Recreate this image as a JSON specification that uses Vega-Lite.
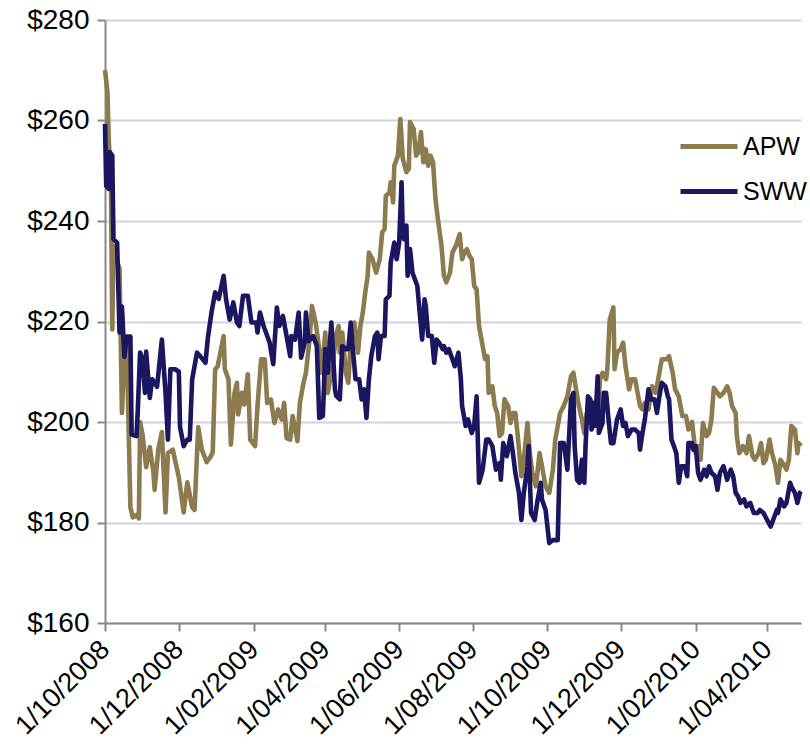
{
"$schema": "https://vega.github.io/schema/vega-lite/v6.json",
"width": 696, "height": 603,
"autosize": {"type": "none"},
"padding": {"left": 105, "top": 20, "right": 9, "bottom": 123},
"background": "white",
"config": {"view": {"stroke": null}, "font": "Liberation Sans"},
"data": {"values": [
{"date":"2008-10-01","stock":"APW","price":270.0},{"date":"2008-10-03","stock":"APW","price":265.7},{"date":"2008-10-04","stock":"APW","price":257.0},{"date":"2008-10-06","stock":"APW","price":245.7},{"date":"2008-10-07","stock":"APW","price":218.4},{"date":"2008-10-08","stock":"APW","price":235.0},{"date":"2008-10-11","stock":"APW","price":232.0},{"date":"2008-10-13","stock":"APW","price":230.5},{"date":"2008-10-15","stock":"APW","price":201.8},{"date":"2008-10-17","stock":"APW","price":214.0},{"date":"2008-10-19","stock":"APW","price":215.0},{"date":"2008-10-22","stock":"APW","price":183.0},{"date":"2008-10-24","stock":"APW","price":181.0},{"date":"2008-10-27","stock":"APW","price":181.5},{"date":"2008-10-29","stock":"APW","price":180.8},{"date":"2008-10-30","stock":"APW","price":200.0},
{"date":"2008-11-01","stock":"APW","price":197.5},{"date":"2008-11-04","stock":"APW","price":191.0},{"date":"2008-11-07","stock":"APW","price":195.0},{"date":"2008-11-10","stock":"APW","price":190.0},{"date":"2008-11-11","stock":"APW","price":186.5},{"date":"2008-11-14","stock":"APW","price":194.5},{"date":"2008-11-17","stock":"APW","price":198.0},{"date":"2008-11-20","stock":"APW","price":182.0},{"date":"2008-11-22","stock":"APW","price":193.8},{"date":"2008-11-26","stock":"APW","price":194.5},
{"date":"2008-12-01","stock":"APW","price":189.0},{"date":"2008-12-05","stock":"APW","price":182.0},{"date":"2008-12-08","stock":"APW","price":188.0},{"date":"2008-12-12","stock":"APW","price":183.0},{"date":"2008-12-14","stock":"APW","price":182.5},{"date":"2008-12-17","stock":"APW","price":199.0},{"date":"2008-12-20","stock":"APW","price":194.5},{"date":"2008-12-24","stock":"APW","price":192.0},{"date":"2008-12-27","stock":"APW","price":193.0},{"date":"2008-12-29","stock":"APW","price":194.0},{"date":"2008-12-31","stock":"APW","price":210.5},
{"date":"2009-01-02","stock":"APW","price":211.0},{"date":"2009-01-07","stock":"APW","price":217.1},{"date":"2009-01-08","stock":"APW","price":210.5},{"date":"2009-01-11","stock":"APW","price":208.5},{"date":"2009-01-13","stock":"APW","price":195.5},{"date":"2009-01-16","stock":"APW","price":205.8},{"date":"2009-01-18","stock":"APW","price":207.8},{"date":"2009-01-19","stock":"APW","price":201.5},{"date":"2009-01-22","stock":"APW","price":205.8},{"date":"2009-01-24","stock":"APW","price":203.5},{"date":"2009-01-27","stock":"APW","price":209.5},{"date":"2009-01-29","stock":"APW","price":196.5},
{"date":"2009-02-02","stock":"APW","price":195.2},{"date":"2009-02-04","stock":"APW","price":203.2},{"date":"2009-02-07","stock":"APW","price":212.5},{"date":"2009-02-10","stock":"APW","price":212.5},{"date":"2009-02-12","stock":"APW","price":203.8},{"date":"2009-02-15","stock":"APW","price":204.5},{"date":"2009-02-18","stock":"APW","price":199.8},{"date":"2009-02-21","stock":"APW","price":202.5},{"date":"2009-02-24","stock":"APW","price":200.5},{"date":"2009-02-26","stock":"APW","price":203.8},{"date":"2009-02-28","stock":"APW","price":196.8},
{"date":"2009-03-03","stock":"APW","price":196.5},{"date":"2009-03-05","stock":"APW","price":201.2},{"date":"2009-03-09","stock":"APW","price":196.2},{"date":"2009-03-11","stock":"APW","price":203.8},{"date":"2009-03-14","stock":"APW","price":207.8},{"date":"2009-03-16","stock":"APW","price":209.8},{"date":"2009-03-19","stock":"APW","price":216.4},{"date":"2009-03-21","stock":"APW","price":223.1},{"date":"2009-03-24","stock":"APW","price":219.8},{"date":"2009-03-26","stock":"APW","price":216.4},{"date":"2009-03-29","stock":"APW","price":209.8},
{"date":"2009-04-01","stock":"APW","price":217.8},{"date":"2009-04-03","stock":"APW","price":205.8},{"date":"2009-04-07","stock":"APW","price":211.1},{"date":"2009-04-10","stock":"APW","price":217.5},{"date":"2009-04-12","stock":"APW","price":219.1},{"date":"2009-04-13","stock":"APW","price":213.8},{"date":"2009-04-15","stock":"APW","price":217.8},{"date":"2009-04-18","stock":"APW","price":209.8},{"date":"2009-04-20","stock":"APW","price":207.8},{"date":"2009-04-22","stock":"APW","price":215.8},{"date":"2009-04-25","stock":"APW","price":219.8},{"date":"2009-04-28","stock":"APW","price":213.8},{"date":"2009-04-30","stock":"APW","price":219.1},
{"date":"2009-05-02","stock":"APW","price":221.8},{"date":"2009-05-04","stock":"APW","price":225.8},{"date":"2009-05-06","stock":"APW","price":229.1},{"date":"2009-05-07","stock":"APW","price":233.7},{"date":"2009-05-10","stock":"APW","price":232.4},{"date":"2009-05-13","stock":"APW","price":229.7},{"date":"2009-05-16","stock":"APW","price":232.4},{"date":"2009-05-18","stock":"APW","price":237.7},{"date":"2009-05-20","stock":"APW","price":238.4},{"date":"2009-05-21","stock":"APW","price":245.0},{"date":"2009-05-24","stock":"APW","price":245.7},{"date":"2009-05-25","stock":"APW","price":247.7},{"date":"2009-05-27","stock":"APW","price":243.7},{"date":"2009-05-28","stock":"APW","price":251.0},{"date":"2009-05-31","stock":"APW","price":253.0},
{"date":"2009-06-02","stock":"APW","price":260.3},{"date":"2009-06-04","stock":"APW","price":252.4},{"date":"2009-06-07","stock":"APW","price":249.7},{"date":"2009-06-09","stock":"APW","price":250.4},{"date":"2009-06-10","stock":"APW","price":259.7},{"date":"2009-06-13","stock":"APW","price":258.3},{"date":"2009-06-15","stock":"APW","price":253.0},{"date":"2009-06-17","stock":"APW","price":253.7},{"date":"2009-06-19","stock":"APW","price":257.7},{"date":"2009-06-21","stock":"APW","price":251.7},{"date":"2009-06-23","stock":"APW","price":254.3},{"date":"2009-06-25","stock":"APW","price":251.0},{"date":"2009-06-27","stock":"APW","price":253.0},{"date":"2009-06-29","stock":"APW","price":251.7},
{"date":"2009-07-01","stock":"APW","price":244.4},{"date":"2009-07-03","stock":"APW","price":240.4},{"date":"2009-07-06","stock":"APW","price":235.1},{"date":"2009-07-08","stock":"APW","price":229.1},{"date":"2009-07-10","stock":"APW","price":227.8},{"date":"2009-07-13","stock":"APW","price":229.7},{"date":"2009-07-15","stock":"APW","price":233.7},{"date":"2009-07-18","stock":"APW","price":235.1},{"date":"2009-07-21","stock":"APW","price":237.4},{"date":"2009-07-23","stock":"APW","price":232.4},{"date":"2009-07-25","stock":"APW","price":233.7},{"date":"2009-07-27","stock":"APW","price":234.4},{"date":"2009-07-29","stock":"APW","price":233.1},{"date":"2009-07-31","stock":"APW","price":232.4},
{"date":"2009-08-02","stock":"APW","price":227.1},{"date":"2009-08-04","stock":"APW","price":226.4},{"date":"2009-08-06","stock":"APW","price":219.1},{"date":"2009-08-09","stock":"APW","price":215.1},{"date":"2009-08-11","stock":"APW","price":212.5},{"date":"2009-08-13","stock":"APW","price":213.1},{"date":"2009-08-14","stock":"APW","price":205.8},{"date":"2009-08-17","stock":"APW","price":207.1},{"date":"2009-08-19","stock":"APW","price":203.2},{"date":"2009-08-21","stock":"APW","price":201.8},{"date":"2009-08-23","stock":"APW","price":197.2},{"date":"2009-08-25","stock":"APW","price":197.8},{"date":"2009-08-27","stock":"APW","price":204.5},{"date":"2009-08-30","stock":"APW","price":203.2},
{"date":"2009-09-01","stock":"APW","price":199.8},{"date":"2009-09-03","stock":"APW","price":201.8},{"date":"2009-09-05","stock":"APW","price":201.8},{"date":"2009-09-07","stock":"APW","price":197.2},{"date":"2009-09-10","stock":"APW","price":189.2},{"date":"2009-09-12","stock":"APW","price":192.5},{"date":"2009-09-15","stock":"APW","price":199.8},{"date":"2009-09-17","stock":"APW","price":193.8},{"date":"2009-09-19","stock":"APW","price":189.9},{"date":"2009-09-22","stock":"APW","price":187.2},{"date":"2009-09-25","stock":"APW","price":193.8},{"date":"2009-09-27","stock":"APW","price":191.2},{"date":"2009-09-30","stock":"APW","price":187.2},
{"date":"2009-10-03","stock":"APW","price":185.9},{"date":"2009-10-06","stock":"APW","price":190.5},{"date":"2009-10-08","stock":"APW","price":196.5},{"date":"2009-10-12","stock":"APW","price":201.8},{"date":"2009-10-15","stock":"APW","price":203.2},{"date":"2009-10-18","stock":"APW","price":205.1},{"date":"2009-10-21","stock":"APW","price":209.1},{"date":"2009-10-23","stock":"APW","price":209.8},{"date":"2009-10-27","stock":"APW","price":203.8},{"date":"2009-10-30","stock":"APW","price":200.5},
{"date":"2009-11-01","stock":"APW","price":197.8},{"date":"2009-11-03","stock":"APW","price":201.8},{"date":"2009-11-06","stock":"APW","price":203.2},{"date":"2009-11-09","stock":"APW","price":203.8},{"date":"2009-11-12","stock":"APW","price":201.8},{"date":"2009-11-14","stock":"APW","price":208.5},{"date":"2009-11-16","stock":"APW","price":209.8},{"date":"2009-11-19","stock":"APW","price":208.5},{"date":"2009-11-20","stock":"APW","price":210.5},{"date":"2009-11-22","stock":"APW","price":220.4},{"date":"2009-11-25","stock":"APW","price":222.8},{"date":"2009-11-26","stock":"APW","price":210.5},{"date":"2009-11-28","stock":"APW","price":213.8},
{"date":"2009-12-01","stock":"APW","price":214.5},{"date":"2009-12-03","stock":"APW","price":215.8},{"date":"2009-12-05","stock":"APW","price":211.1},{"date":"2009-12-08","stock":"APW","price":206.5},{"date":"2009-12-10","stock":"APW","price":208.5},{"date":"2009-12-13","stock":"APW","price":208.5},{"date":"2009-12-15","stock":"APW","price":205.8},{"date":"2009-12-17","stock":"APW","price":203.2},{"date":"2009-12-19","stock":"APW","price":202.5},{"date":"2009-12-21","stock":"APW","price":203.8},{"date":"2009-12-24","stock":"APW","price":202.5},{"date":"2009-12-27","stock":"APW","price":207.1},{"date":"2009-12-30","stock":"APW","price":205.8},
{"date":"2010-01-02","stock":"APW","price":209.8},{"date":"2010-01-04","stock":"APW","price":212.5},{"date":"2010-01-08","stock":"APW","price":212.5},{"date":"2010-01-10","stock":"APW","price":213.1},{"date":"2010-01-13","stock":"APW","price":209.8},{"date":"2010-01-15","stock":"APW","price":206.5},{"date":"2010-01-18","stock":"APW","price":205.1},{"date":"2010-01-21","stock":"APW","price":201.2},{"date":"2010-01-24","stock":"APW","price":201.2},{"date":"2010-01-26","stock":"APW","price":198.5},{"date":"2010-01-29","stock":"APW","price":200.0},{"date":"2010-01-30","stock":"APW","price":197.8},
{"date":"2010-02-01","stock":"APW","price":193.8},{"date":"2010-02-03","stock":"APW","price":195.2},{"date":"2010-02-05","stock":"APW","price":192.5},{"date":"2010-02-07","stock":"APW","price":199.8},{"date":"2010-02-10","stock":"APW","price":197.2},{"date":"2010-02-12","stock":"APW","price":197.8},{"date":"2010-02-14","stock":"APW","price":200.5},{"date":"2010-02-16","stock":"APW","price":206.8},{"date":"2010-02-19","stock":"APW","price":205.8},{"date":"2010-02-21","stock":"APW","price":205.1},{"date":"2010-02-24","stock":"APW","price":205.8},{"date":"2010-02-27","stock":"APW","price":207.1},
{"date":"2010-03-01","stock":"APW","price":205.8},{"date":"2010-03-03","stock":"APW","price":203.2},{"date":"2010-03-06","stock":"APW","price":201.8},{"date":"2010-03-07","stock":"APW","price":197.2},{"date":"2010-03-09","stock":"APW","price":193.8},{"date":"2010-03-12","stock":"APW","price":195.2},{"date":"2010-03-15","stock":"APW","price":193.8},{"date":"2010-03-17","stock":"APW","price":197.2},{"date":"2010-03-20","stock":"APW","price":193.2},{"date":"2010-03-22","stock":"APW","price":192.5},{"date":"2010-03-25","stock":"APW","price":193.8},{"date":"2010-03-27","stock":"APW","price":195.8},{"date":"2010-03-29","stock":"APW","price":191.8},{"date":"2010-03-31","stock":"APW","price":192.5},
{"date":"2010-04-03","stock":"APW","price":196.5},{"date":"2010-04-05","stock":"APW","price":193.8},{"date":"2010-04-08","stock":"APW","price":191.2},{"date":"2010-04-10","stock":"APW","price":187.9},{"date":"2010-04-12","stock":"APW","price":192.5},{"date":"2010-04-14","stock":"APW","price":191.8},{"date":"2010-04-17","stock":"APW","price":190.5},{"date":"2010-04-19","stock":"APW","price":192.5},{"date":"2010-04-21","stock":"APW","price":199.2},{"date":"2010-04-24","stock":"APW","price":198.5},{"date":"2010-04-26","stock":"APW","price":193.8},{"date":"2010-04-27","stock":"APW","price":195.8},{"date":"2010-04-29","stock":"APW","price":195.2},
{"date":"2008-10-01","stock":"SWW","price":259.3},{"date":"2008-10-02","stock":"SWW","price":247.0},{"date":"2008-10-04","stock":"SWW","price":246.4},{"date":"2008-10-05","stock":"SWW","price":253.7},{"date":"2008-10-07","stock":"SWW","price":253.0},{"date":"2008-10-08","stock":"SWW","price":236.4},{"date":"2008-10-11","stock":"SWW","price":235.7},{"date":"2008-10-13","stock":"SWW","price":217.8},{"date":"2008-10-15","stock":"SWW","price":223.0},{"date":"2008-10-17","stock":"SWW","price":213.0},{"date":"2008-10-19","stock":"SWW","price":217.0},{"date":"2008-10-22","stock":"SWW","price":217.0},{"date":"2008-10-23","stock":"SWW","price":197.5},{"date":"2008-10-27","stock":"SWW","price":197.2},{"date":"2008-10-28","stock":"SWW","price":201.8},{"date":"2008-10-30","stock":"SWW","price":213.8},
{"date":"2008-11-01","stock":"SWW","price":212.5},{"date":"2008-11-03","stock":"SWW","price":205.8},{"date":"2008-11-04","stock":"SWW","price":214.0},{"date":"2008-11-07","stock":"SWW","price":204.8},{"date":"2008-11-09","stock":"SWW","price":208.5},{"date":"2008-11-13","stock":"SWW","price":207.0},{"date":"2008-11-17","stock":"SWW","price":216.4},{"date":"2008-11-20","stock":"SWW","price":205.8},{"date":"2008-11-22","stock":"SWW","price":196.5},{"date":"2008-11-24","stock":"SWW","price":210.5},{"date":"2008-11-28","stock":"SWW","price":210.5},
{"date":"2008-12-01","stock":"SWW","price":210.0},{"date":"2008-12-02","stock":"SWW","price":199.0},{"date":"2008-12-05","stock":"SWW","price":195.2},{"date":"2008-12-08","stock":"SWW","price":196.5},{"date":"2008-12-10","stock":"SWW","price":196.5},{"date":"2008-12-12","stock":"SWW","price":208.5},{"date":"2008-12-16","stock":"SWW","price":213.8},{"date":"2008-12-19","stock":"SWW","price":213.0},{"date":"2008-12-23","stock":"SWW","price":211.8},{"date":"2008-12-25","stock":"SWW","price":216.8},{"date":"2008-12-28","stock":"SWW","price":221.8},{"date":"2008-12-31","stock":"SWW","price":225.8},
{"date":"2009-01-03","stock":"SWW","price":224.5},{"date":"2009-01-07","stock":"SWW","price":229.1},{"date":"2009-01-09","stock":"SWW","price":224.4},{"date":"2009-01-12","stock":"SWW","price":220.4},{"date":"2009-01-15","stock":"SWW","price":223.8},{"date":"2009-01-18","stock":"SWW","price":219.8},{"date":"2009-01-20","stock":"SWW","price":219.1},{"date":"2009-01-23","stock":"SWW","price":225.1},{"date":"2009-01-27","stock":"SWW","price":225.1},{"date":"2009-01-30","stock":"SWW","price":219.8},
{"date":"2009-02-03","stock":"SWW","price":219.8},{"date":"2009-02-04","stock":"SWW","price":217.8},{"date":"2009-02-06","stock":"SWW","price":221.8},{"date":"2009-02-09","stock":"SWW","price":219.1},{"date":"2009-02-11","stock":"SWW","price":217.8},{"date":"2009-02-14","stock":"SWW","price":215.8},{"date":"2009-02-17","stock":"SWW","price":211.5},{"date":"2009-02-20","stock":"SWW","price":222.8},{"date":"2009-02-22","stock":"SWW","price":219.1},{"date":"2009-02-25","stock":"SWW","price":221.1},{"date":"2009-02-28","stock":"SWW","price":217.1},
{"date":"2009-03-03","stock":"SWW","price":213.1},{"date":"2009-03-04","stock":"SWW","price":217.1},{"date":"2009-03-07","stock":"SWW","price":216.4},{"date":"2009-03-10","stock":"SWW","price":221.8},{"date":"2009-03-12","stock":"SWW","price":212.8},{"date":"2009-03-15","stock":"SWW","price":215.8},{"date":"2009-03-16","stock":"SWW","price":221.8},{"date":"2009-03-18","stock":"SWW","price":216.1},{"date":"2009-03-22","stock":"SWW","price":217.1},{"date":"2009-03-25","stock":"SWW","price":215.1},{"date":"2009-03-27","stock":"SWW","price":200.8},{"date":"2009-03-30","stock":"SWW","price":201.2},
{"date":"2009-04-01","stock":"SWW","price":214.5},{"date":"2009-04-03","stock":"SWW","price":209.8},{"date":"2009-04-06","stock":"SWW","price":219.8},{"date":"2009-04-09","stock":"SWW","price":206.5},{"date":"2009-04-10","stock":"SWW","price":205.2},{"date":"2009-04-13","stock":"SWW","price":204.5},{"date":"2009-04-15","stock":"SWW","price":215.1},{"date":"2009-04-18","stock":"SWW","price":214.5},{"date":"2009-04-20","stock":"SWW","price":214.5},{"date":"2009-04-22","stock":"SWW","price":219.8},{"date":"2009-04-24","stock":"SWW","price":213.8},{"date":"2009-04-26","stock":"SWW","price":208.5},{"date":"2009-04-29","stock":"SWW","price":208.5},
{"date":"2009-05-01","stock":"SWW","price":204.5},{"date":"2009-05-03","stock":"SWW","price":206.5},{"date":"2009-05-05","stock":"SWW","price":200.8},{"date":"2009-05-07","stock":"SWW","price":208.5},{"date":"2009-05-09","stock":"SWW","price":213.1},{"date":"2009-05-12","stock":"SWW","price":217.1},{"date":"2009-05-14","stock":"SWW","price":217.8},{"date":"2009-05-15","stock":"SWW","price":212.5},{"date":"2009-05-17","stock":"SWW","price":217.1},{"date":"2009-05-20","stock":"SWW","price":217.1},{"date":"2009-05-21","stock":"SWW","price":224.4},{"date":"2009-05-24","stock":"SWW","price":225.1},{"date":"2009-05-25","stock":"SWW","price":231.7},{"date":"2009-05-28","stock":"SWW","price":235.7},{"date":"2009-05-30","stock":"SWW","price":232.4},
{"date":"2009-06-01","stock":"SWW","price":235.7},{"date":"2009-06-03","stock":"SWW","price":247.7},{"date":"2009-06-04","stock":"SWW","price":237.7},{"date":"2009-06-05","stock":"SWW","price":236.4},{"date":"2009-06-07","stock":"SWW","price":239.1},{"date":"2009-06-08","stock":"SWW","price":229.1},{"date":"2009-06-10","stock":"SWW","price":234.4},{"date":"2009-06-12","stock":"SWW","price":229.7},{"date":"2009-06-14","stock":"SWW","price":228.4},{"date":"2009-06-16","stock":"SWW","price":227.1},{"date":"2009-06-18","stock":"SWW","price":221.8},{"date":"2009-06-20","stock":"SWW","price":216.4},{"date":"2009-06-22","stock":"SWW","price":224.4},{"date":"2009-06-23","stock":"SWW","price":223.1},{"date":"2009-06-25","stock":"SWW","price":217.1},{"date":"2009-06-28","stock":"SWW","price":217.1},{"date":"2009-06-30","stock":"SWW","price":211.8},
{"date":"2009-07-02","stock":"SWW","price":216.4},{"date":"2009-07-04","stock":"SWW","price":215.8},{"date":"2009-07-07","stock":"SWW","price":214.5},{"date":"2009-07-08","stock":"SWW","price":215.1},{"date":"2009-07-10","stock":"SWW","price":213.8},{"date":"2009-07-12","stock":"SWW","price":214.5},{"date":"2009-07-15","stock":"SWW","price":212.5},{"date":"2009-07-17","stock":"SWW","price":211.1},{"date":"2009-07-20","stock":"SWW","price":213.8},{"date":"2009-07-22","stock":"SWW","price":208.5},{"date":"2009-07-23","stock":"SWW","price":203.2},{"date":"2009-07-26","stock":"SWW","price":199.2},{"date":"2009-07-28","stock":"SWW","price":200.5},{"date":"2009-07-31","stock":"SWW","price":197.8},
{"date":"2009-08-02","stock":"SWW","price":199.2},{"date":"2009-08-04","stock":"SWW","price":205.1},{"date":"2009-08-06","stock":"SWW","price":187.9},{"date":"2009-08-09","stock":"SWW","price":190.5},{"date":"2009-08-12","stock":"SWW","price":196.5},{"date":"2009-08-14","stock":"SWW","price":196.5},{"date":"2009-08-17","stock":"SWW","price":195.2},{"date":"2009-08-20","stock":"SWW","price":190.5},{"date":"2009-08-23","stock":"SWW","price":191.8},{"date":"2009-08-24","stock":"SWW","price":188.5},{"date":"2009-08-26","stock":"SWW","price":195.8},{"date":"2009-08-29","stock":"SWW","price":193.2},
{"date":"2009-09-01","stock":"SWW","price":197.2},{"date":"2009-09-03","stock":"SWW","price":193.8},{"date":"2009-09-05","stock":"SWW","price":189.9},{"date":"2009-09-08","stock":"SWW","price":185.9},{"date":"2009-09-10","stock":"SWW","price":180.5},{"date":"2009-09-12","stock":"SWW","price":185.9},{"date":"2009-09-15","stock":"SWW","price":191.2},{"date":"2009-09-16","stock":"SWW","price":195.2},{"date":"2009-09-18","stock":"SWW","price":181.9},{"date":"2009-09-21","stock":"SWW","price":180.5},{"date":"2009-09-23","stock":"SWW","price":183.9},{"date":"2009-09-26","stock":"SWW","price":187.9},{"date":"2009-09-27","stock":"SWW","price":184.6},{"date":"2009-09-30","stock":"SWW","price":182.5},
{"date":"2009-10-03","stock":"SWW","price":175.9},{"date":"2009-10-06","stock":"SWW","price":176.5},{"date":"2009-10-10","stock":"SWW","price":176.5},{"date":"2009-10-12","stock":"SWW","price":195.8},{"date":"2009-10-15","stock":"SWW","price":195.8},{"date":"2009-10-18","stock":"SWW","price":190.5},{"date":"2009-10-21","stock":"SWW","price":204.5},{"date":"2009-10-23","stock":"SWW","price":205.8},{"date":"2009-10-24","stock":"SWW","price":195.2},{"date":"2009-10-26","stock":"SWW","price":188.5},{"date":"2009-10-28","stock":"SWW","price":187.9},{"date":"2009-10-30","stock":"SWW","price":192.5},
{"date":"2009-11-01","stock":"SWW","price":187.9},{"date":"2009-11-02","stock":"SWW","price":195.2},{"date":"2009-11-04","stock":"SWW","price":205.1},{"date":"2009-11-06","stock":"SWW","price":204.5},{"date":"2009-11-07","stock":"SWW","price":198.5},{"date":"2009-11-09","stock":"SWW","price":203.8},{"date":"2009-11-10","stock":"SWW","price":199.2},{"date":"2009-11-12","stock":"SWW","price":209.1},{"date":"2009-11-13","stock":"SWW","price":197.8},{"date":"2009-11-16","stock":"SWW","price":199.8},{"date":"2009-11-17","stock":"SWW","price":205.8},{"date":"2009-11-19","stock":"SWW","price":205.8},{"date":"2009-11-21","stock":"SWW","price":200.5},{"date":"2009-11-23","stock":"SWW","price":195.8},{"date":"2009-11-25","stock":"SWW","price":195.8},{"date":"2009-11-28","stock":"SWW","price":200.5},
{"date":"2009-12-01","stock":"SWW","price":202.5},{"date":"2009-12-03","stock":"SWW","price":199.2},{"date":"2009-12-05","stock":"SWW","price":199.8},{"date":"2009-12-07","stock":"SWW","price":197.2},{"date":"2009-12-10","stock":"SWW","price":198.5},{"date":"2009-12-13","stock":"SWW","price":198.5},{"date":"2009-12-16","stock":"SWW","price":197.8},{"date":"2009-12-17","stock":"SWW","price":194.5},{"date":"2009-12-19","stock":"SWW","price":197.8},{"date":"2009-12-21","stock":"SWW","price":200.5},{"date":"2009-12-24","stock":"SWW","price":206.5},{"date":"2009-12-26","stock":"SWW","price":204.5},{"date":"2009-12-29","stock":"SWW","price":204.5},{"date":"2009-12-31","stock":"SWW","price":201.8},
{"date":"2010-01-02","stock":"SWW","price":205.1},{"date":"2010-01-04","stock":"SWW","price":207.8},{"date":"2010-01-07","stock":"SWW","price":207.1},{"date":"2010-01-09","stock":"SWW","price":205.1},{"date":"2010-01-10","stock":"SWW","price":204.5},{"date":"2010-01-12","stock":"SWW","price":196.5},{"date":"2010-01-14","stock":"SWW","price":195.2},{"date":"2010-01-16","stock":"SWW","price":193.8},{"date":"2010-01-18","stock":"SWW","price":187.9},{"date":"2010-01-20","stock":"SWW","price":191.2},{"date":"2010-01-23","stock":"SWW","price":191.2},{"date":"2010-01-25","stock":"SWW","price":189.2},{"date":"2010-01-26","stock":"SWW","price":195.8},{"date":"2010-01-29","stock":"SWW","price":195.8},{"date":"2010-01-30","stock":"SWW","price":194.5},
{"date":"2010-02-01","stock":"SWW","price":195.2},{"date":"2010-02-03","stock":"SWW","price":189.9},{"date":"2010-02-05","stock":"SWW","price":188.5},{"date":"2010-02-08","stock":"SWW","price":190.5},{"date":"2010-02-10","stock":"SWW","price":189.2},{"date":"2010-02-12","stock":"SWW","price":191.2},{"date":"2010-02-14","stock":"SWW","price":189.9},{"date":"2010-02-17","stock":"SWW","price":189.2},{"date":"2010-02-19","stock":"SWW","price":186.5},{"date":"2010-02-21","stock":"SWW","price":189.9},{"date":"2010-02-24","stock":"SWW","price":191.2},{"date":"2010-02-27","stock":"SWW","price":188.5},
{"date":"2010-03-02","stock":"SWW","price":190.5},{"date":"2010-03-04","stock":"SWW","price":189.2},{"date":"2010-03-06","stock":"SWW","price":185.9},{"date":"2010-03-08","stock":"SWW","price":185.2},{"date":"2010-03-10","stock":"SWW","price":183.9},{"date":"2010-03-13","stock":"SWW","price":184.6},{"date":"2010-03-15","stock":"SWW","price":183.2},{"date":"2010-03-18","stock":"SWW","price":183.9},{"date":"2010-03-21","stock":"SWW","price":181.9},{"date":"2010-03-24","stock":"SWW","price":181.9},{"date":"2010-03-26","stock":"SWW","price":182.5},{"date":"2010-03-29","stock":"SWW","price":181.9},
{"date":"2010-04-01","stock":"SWW","price":180.5},{"date":"2010-04-04","stock":"SWW","price":179.2},{"date":"2010-04-06","stock":"SWW","price":180.5},{"date":"2010-04-09","stock":"SWW","price":182.5},{"date":"2010-04-10","stock":"SWW","price":181.9},{"date":"2010-04-12","stock":"SWW","price":184.6},{"date":"2010-04-15","stock":"SWW","price":183.2},{"date":"2010-04-17","stock":"SWW","price":183.9},{"date":"2010-04-20","stock":"SWW","price":187.9},{"date":"2010-04-21","stock":"SWW","price":187.2},{"date":"2010-04-24","stock":"SWW","price":185.9},{"date":"2010-04-26","stock":"SWW","price":183.9},{"date":"2010-04-28","stock":"SWW","price":185.9},{"date":"2010-04-29","stock":"SWW","price":186.2}
]},
"mark": {"type": "line", "strokeWidth": 4.6, "strokeJoin": "round"},
"encoding": {
"x": {"field": "date", "type": "temporal",
 "scale": {"type": "utc", "domain": [{"year": 2008, "month": 10, "date": 1, "utc": true}, {"year": 2010, "month": 4, "date": 29, "utc": true}]},
 "axis": {"title": null, "grid": false, "format": "%-d/%m/%Y", "labelAngle": -45, "labelBaseline": "middle", "labelFontSize": 27, "labelColor": "black", "labelPadding": 14, "labelOverlap": false, "labelFlush": false, "labelBound": false,
  "domainColor": "#888888", "domainWidth": 2, "tickColor": "#888888", "tickWidth": 2, "tickSize": 8,
  "values": [{"year": 2008, "month": 10, "date": 1, "utc": true}, {"year": 2008, "month": 12, "date": 1, "utc": true}, {"year": 2009, "month": 2, "date": 1, "utc": true}, {"year": 2009, "month": 4, "date": 1, "utc": true}, {"year": 2009, "month": 6, "date": 1, "utc": true}, {"year": 2009, "month": 8, "date": 1, "utc": true}, {"year": 2009, "month": 10, "date": 1, "utc": true}, {"year": 2009, "month": 12, "date": 1, "utc": true}, {"year": 2010, "month": 2, "date": 1, "utc": true}, {"year": 2010, "month": 4, "date": 1, "utc": true}]}},
"y": {"field": "price", "type": "quantitative",
 "scale": {"domain": [160, 280], "nice": false, "zero": false},
 "axis": {"title": null, "values": [160, 180, 200, 220, 240, 260, 280], "format": "$.0f", "grid": true, "gridColor": "#D2D0E3", "gridWidth": 2,
  "labelFontSize": 28, "labelColor": "black", "labelPadding": 8, "domainColor": "#888888", "domainWidth": 2, "tickColor": "#888888", "tickWidth": 2, "tickSize": 8}},
"color": {"field": "stock", "type": "nominal",
 "scale": {"domain": ["APW", "SWW"], "range": ["#8B7B4F", "#1A1660"]},
 "legend": {"title": null, "orient": "none", "legendX": 573, "legendY": 104, "padding": 0, "symbolType": "stroke", "symbolSize": 3249, "symbolStrokeWidth": 5, "labelFontSize": 25, "labelColor": "black", "labelOffset": 3, "clipHeight": 45, "rowPadding": 0}}
}
}
